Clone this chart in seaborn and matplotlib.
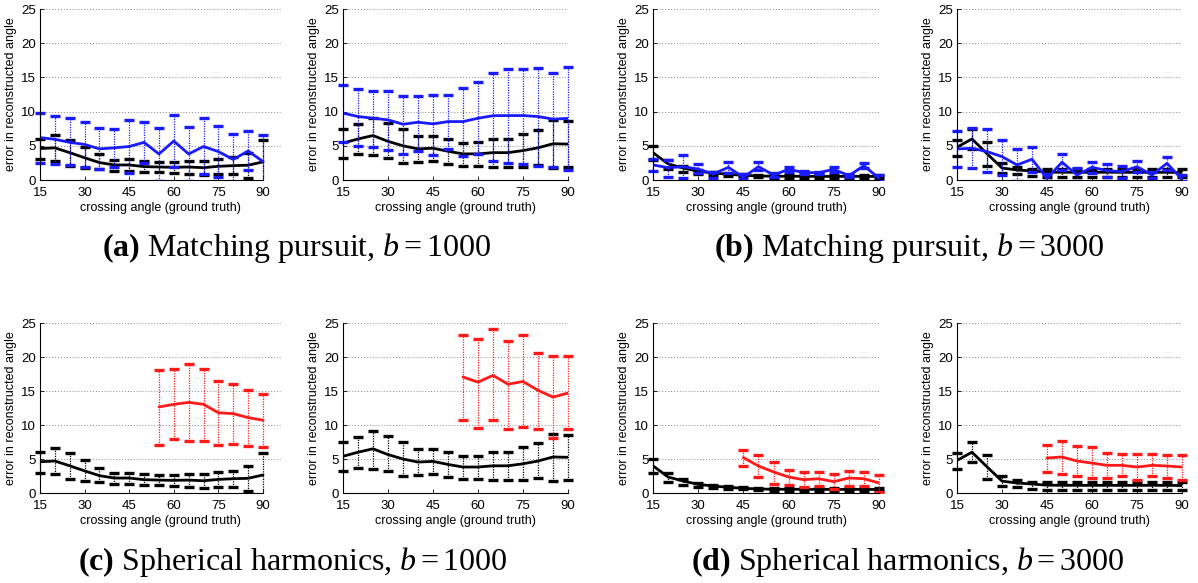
import matplotlib
matplotlib.use("Agg")
import matplotlib.pyplot as plt
import matplotlib.transforms as mtransforms
import numpy as np
import seaborn as sns

# crossing angles (ground truth)
angles = [15, 20, 25, 30, 35, 40, 45, 50, 55, 60, 65, 70, 75, 80, 85, 90]
angles_sh1000 = [55, 60, 65, 70, 75, 80, 85, 90]
angles_sh3000 = [45, 50, 55, 60, 65, 70, 75, 80, 85, 90]
tick_angles = [15, 30, 45, 60, 75, 90]
tick_errors = [0, 5, 10, 15, 20, 25]

# black curves (shared between matching pursuit and spherical harmonics panels)
black_1000_l = [4.6, 4.7, 4.0, 3.25, 2.55, 2.2, 2.2, 1.96, 1.9, 1.86, 1.9, 1.8, 2.0, 2.1, 2.16, 2.65]
black_1000_l_hi = [6.05, 6.6, 5.9, 4.8, 3.75, 2.95, 3.0, 2.75, 2.7, 2.65, 2.8, 2.85, 3.05, 3.3, 4.0, 5.9]
black_1000_l_lo = [3.0, 2.75, 2.0, 1.76, 1.57, 1.37, 1.37, 1.13, 1.13, 1.03, 0.88, 0.78, 0.88, 0.93, 0.34, -0.6]

black_1000_r = [5.4, 6.0, 6.5, 5.65, 5.0, 4.55, 4.65, 4.2, 3.82, 3.82, 4.0, 4.0, 4.3, 4.7, 5.3, 5.25]
black_1000_r_hi = [7.5, 8.25, 9.1, 8.35, 7.5, 6.4, 6.4, 6.0, 5.45, 5.5, 6.0, 6.0, 6.75, 7.35, 8.7, 8.6]
black_1000_r_lo = [3.2, 3.75, 3.6, 3.2, 2.55, 2.65, 2.75, 2.3, 2.1, 2.1, 1.95, 1.85, 1.9, 2.25, 1.75, 1.85]

black_3000_l = [4.0, 2.35, 1.76, 1.27, 1.03, 0.83, 0.69, 0.59, 0.55, 0.55, 0.54, 0.54, 0.52, 0.54, 0.53, 0.52]
black_3000_l_hi = [4.95, 2.9, 2.1, 1.5, 1.17, 1.0, 0.83, 0.73, 0.72, 0.72, 0.72, 0.72, 0.7, 0.72, 0.72, 0.7]
black_3000_l_lo = [2.95, 1.6, 1.17, 0.88, 0.78, 0.64, 0.54, 0.44, 0.36, 0.36, 0.35, 0.35, 0.33, 0.35, 0.35, 0.33]

black_3000_r = [4.8, 6.0, 3.85, 1.75, 1.47, 1.32, 1.15, 1.13, 1.13, 1.12, 1.13, 1.12, 1.12, 1.13, 1.12, 1.1]
black_3000_r_hi = [5.9, 7.45, 5.55, 2.5, 1.96, 1.6, 1.57, 1.57, 1.57, 1.55, 1.57, 1.55, 1.55, 1.57, 1.55, 1.55]
black_3000_r_lo = [3.53, 4.5, 2.0, 0.98, 0.88, 0.64, 0.5, 0.5, 0.5, 0.5, 0.5, 0.5, 0.5, 0.5, 0.5, 0.5]

# matching pursuit (blue)
mp_1000_l = [6.2, 5.95, 5.5, 5.2, 4.55, 4.7, 4.9, 5.5, 3.8, 5.7, 3.8, 4.9, 4.15, 3.0, 4.25, 2.7]
mp_1000_l_hi = [9.85, 9.4, 9.0, 8.55, 7.65, 7.4, 8.8, 8.55, 7.6, 9.5, 7.7, 9.1, 7.95, 6.7, 7.2, 6.65]
mp_1000_l_lo = [2.55, 2.3, 2.15, 1.95, 1.55, 1.95, 1.05, 2.45, -0.1, 1.9, -0.1, 0.9, 0.4, -0.7, 1.4, -1.2]

mp_1000_r = [9.77, 9.28, 9.03, 8.79, 8.15, 8.45, 8.2, 8.54, 8.54, 9.03, 9.4, 9.42, 9.42, 9.28, 8.9, 9.0]
mp_1000_r_hi = [13.87, 13.28, 13.04, 13.04, 12.3, 12.3, 12.45, 12.45, 13.4, 14.35, 15.6, 16.2, 16.2, 16.36, 15.6, 16.45]
mp_1000_r_lo = [5.6, 4.9, 4.8, 4.4, 3.8, 4.3, 3.66, 4.5, 3.56, 3.76, 2.83, 2.44, 2.34, 2.1, 1.95, 1.5]

mp_3000_l = [2.2, 1.8, 1.95, 1.6, 0.88, 1.85, 0.4, 1.95, 0.73, 1.56, 1.1, 1.07, 1.56, 0.63, 2.1, 0.25]
mp_3000_l_hi = [3.1, 2.9, 3.6, 2.35, 1.2, 2.7, 0.88, 2.6, 1.0, 1.95, 1.27, 1.17, 1.95, 0.88, 2.54, 0.73]
mp_3000_l_lo = [1.3, 0.5, 0.35, 1.0, 0.25, 1.0, 0.1, 1.46, 0.5, 1.1, 0.88, 0.88, 1.2, 0.4, 1.7, -0.1]

mp_3000_r = [4.54, 4.64, 4.15, 3.42, 2.2, 3.03, 0.24, 2.6, 0.73, 1.86, 1.37, 1.22, 1.95, 0.73, 2.44, 0.1]
mp_3000_r_hi = [7.18, 7.6, 7.47, 5.86, 4.5, 4.8, 0.88, 3.8, 1.8, 2.6, 2.35, 2.05, 2.83, 1.2, 3.3, 0.73]
mp_3000_r_lo = [1.95, 1.7, 1.12, 0.73, -0.1, 1.2, -0.1, 1.46, -0.1, 1.0, 0.5, 0.25, 1.12, 0.25, 1.46, -0.1]

# spherical harmonics (red)
sh_1000_l = [12.65, 13.04, 13.33, 13.04, 11.8, 11.67, 11.08, 10.7]
sh_1000_l_hi = [18.04, 18.2, 19.0, 18.3, 16.5, 16.1, 15.1, 14.6]
sh_1000_l_lo = [7.1, 7.9, 7.7, 7.7, 7.0, 7.16, 6.86, 6.76]

sh_1000_r = [17.06, 16.3, 17.3, 16.0, 16.4, 15.1, 14.1, 14.7]
sh_1000_r_hi = [23.3, 22.7, 24.07, 22.35, 23.2, 20.6, 20.15, 20.1]
sh_1000_r_lo = [10.7, 9.6, 10.7, 9.46, 9.7, 9.4, 8.1, 9.4]

sh_3000_l = [5.2, 3.97, 3.1, 2.35, 1.96, 2.1, 1.67, 2.2, 2.1, 1.47]
sh_3000_l_hi = [6.37, 5.64, 4.56, 3.4, 3.04, 3.04, 2.84, 3.23, 3.1, 2.7]
sh_3000_l_lo = [3.9, 2.35, 1.27, 1.13, 0.88, 0.98, 0.54, 1.03, 0.98, 0.15]

sh_3000_r = [5.15, 5.3, 4.7, 4.4, 4.07, 4.07, 3.82, 4.07, 3.97, 3.82]
sh_3000_r_hi = [7.1, 7.65, 6.9, 6.76, 5.9, 5.7, 5.8, 5.7, 5.54, 5.54]
sh_3000_r_lo = [3.1, 2.75, 2.5, 2.2, 2.2, 2.5, 1.86, 2.45, 2.2, 1.96]

captions = [
    r"$\mathbf{(a)}$ Matching pursuit, $b = 1000$",
    r"$\mathbf{(b)}$ Matching pursuit, $b = 3000$",
    r"$\mathbf{(c)}$ Spherical harmonics, $b = 1000$",
    r"$\mathbf{(d)}$ Spherical harmonics, $b = 3000$",
]

BLUE = "#1a1aff"
RED = "#ff1a1a"
BLACK = "#000000"

sns.set_style("white")
plt.rcParams["font.family"] = ["Liberation Sans", "DejaVu Sans"]
plt.rcParams["text.color"] = "black"
plt.rcParams["axes.labelcolor"] = "black"
plt.rcParams["xtick.color"] = "black"
plt.rcParams["ytick.color"] = "black"
plt.rcParams["mathtext.fontset"] = "custom"
plt.rcParams["mathtext.rm"] = "Liberation Serif"
plt.rcParams["mathtext.it"] = "Liberation Serif:italic"
plt.rcParams["mathtext.bf"] = "Liberation Serif:bold"

W, H = 1198, 583
fig = plt.figure(figsize=(W / 100, H / 100), dpi=100)

# pixel layout of the axes (left px of 15, right px of 90)
col_px = [(40, 263), (343, 568), (653, 879), (957, 1182)]
row_px = [(9, 180), (323, 493)]


def series(ax, x, mean, lo, hi, color):
    x = np.array(x)
    mean = np.array(mean)
    yerr = [mean - np.array(lo), np.array(hi) - mean]
    eb = ax.errorbar(x, mean, yerr=yerr, fmt="none", ecolor=color,
                     elinewidth=0.9, capsize=3.5, capthick=2.4)
    eb[2][0].set_linestyle((0, (1, 1)))
    clip = mtransforms.TransformedBbox(
        mtransforms.Bbox([[5, 0], [100, 26]]), ax.transData)
    for art in list(eb[1]) + list(eb[2]):
        art.set_clip_box(clip)
    sns.lineplot(x=x, y=mean, ax=ax, color=color, linewidth=2, errorbar=None)


panels = [
    # (row, col, black series, colour series)
    (0, 0, (angles, black_1000_l, black_1000_l_lo, black_1000_l_hi), (angles, mp_1000_l, mp_1000_l_lo, mp_1000_l_hi, BLUE)),
    (0, 1, (angles, black_1000_r, black_1000_r_lo, black_1000_r_hi), (angles, mp_1000_r, mp_1000_r_lo, mp_1000_r_hi, BLUE)),
    (0, 2, (angles, black_3000_l, black_3000_l_lo, black_3000_l_hi), (angles, mp_3000_l, mp_3000_l_lo, mp_3000_l_hi, BLUE)),
    (0, 3, (angles, black_3000_r, black_3000_r_lo, black_3000_r_hi), (angles, mp_3000_r, mp_3000_r_lo, mp_3000_r_hi, BLUE)),
    (1, 0, (angles, black_1000_l, black_1000_l_lo, black_1000_l_hi), (angles_sh1000, sh_1000_l, sh_1000_l_lo, sh_1000_l_hi, RED)),
    (1, 1, (angles, black_1000_r, black_1000_r_lo, black_1000_r_hi), (angles_sh1000, sh_1000_r, sh_1000_r_lo, sh_1000_r_hi, RED)),
    (1, 2, (angles, black_3000_l, black_3000_l_lo, black_3000_l_hi), (angles_sh3000, sh_3000_l, sh_3000_l_lo, sh_3000_l_hi, RED)),
    (1, 3, (angles, black_3000_r, black_3000_r_lo, black_3000_r_hi), (angles_sh3000, sh_3000_r, sh_3000_r_lo, sh_3000_r_hi, RED)),
]

for row, col, blk, colr in panels:
    x0, x1 = col_px[col]
    top, bot = row_px[row]
    xmax = 96.3 if col == 0 else 90
    right = x0 + (x1 - x0) * (xmax - 15) / 75
    ax = fig.add_axes([x0 / W, 1 - bot / H, (right - x0) / W, (bot - top) / H])

    bx, bm, blo, bhi = blk
    cx, cm, clo, chi, ccol = colr
    series(ax, bx, bm, blo, bhi, BLACK)
    series(ax, cx, cm, clo, chi, ccol)

    ax.set_xlim(15, xmax)
    ax.set_ylim(0, 25)
    ax.set_xticks(tick_angles)
    ax.set_yticks(tick_errors)
    ax.yaxis.grid(True, linestyle=(0, (1, 2)), color="#888888", linewidth=0.7)
    ax.xaxis.grid(False)
    ax.set_axisbelow(True)
    for side in ["top", "right"]:
        ax.spines[side].set_visible(False)
    for side in ["left", "bottom"]:
        ax.spines[side].set_color("black")
        ax.spines[side].set_linewidth(0.8)
    ax.spines["bottom"].set_bounds(15, 90)
    ax.tick_params(direction="in", length=3, width=0.6, labelsize=9.5,
                   pad=3, left=True, bottom=True, colors="black")
    ax.tick_params(axis="x", pad=5)
    ax.set_xlabel("crossing angle (ground truth)", fontsize=9, labelpad=2, color="black")
    ax.set_ylabel("error in reconstructed angle", fontsize=9, labelpad=3, color="black")

cap_pos = [(296, 256), (909, 256), (293, 570), (908, 570)]
for text, (cx, cy) in zip(captions, cap_pos):
    fig.text(cx / W, 1 - cy / H, text, ha="center", va="baseline",
             fontsize=23, family="Liberation Serif", color="black")

fig.savefig("out.png", dpi=100)
